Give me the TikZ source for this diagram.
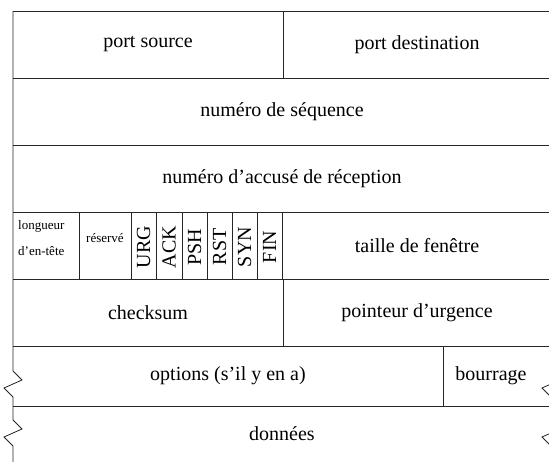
\documentclass[tikz,border=0pt]{standalone}
\usepackage{fontspec}
\setmainfont{Liberation Serif}
\begin{document}
\begin{tikzpicture}[x=1pt,y=-1pt,
  rule/.style={line width=0.8pt, draw=black!85},
  lbl/.style={font=\fontsize{20}{24}\selectfont, inner sep=0pt},
  small/.style={font=\fontsize{13}{15}\selectfont, inner sep=0pt},
  flag/.style={font=\fontsize{20}{24}\selectfont, rotate=90, inner sep=0pt}]
\useasboundingbox (0,0) rectangle (549,462);
\fill[white] (0,0) rectangle (549,462);
\clip (0,0) rectangle (549,462);
% horizontal rules
\foreach \yy in {11,78,145,212,279,346,406}
  \draw[rule] (13,\yy) -- (565,\yy);
% left border with break marks
\draw[rule] (13,11) -- (13,371) -- (22,380) -- (4,388) -- (13,397) -- (13,420)
  -- (22,429) -- (4,437) -- (13,446) -- (13,470);
% right border with break marks (mostly outside the frame)
\draw[rule] (551,11) -- (551,371) -- (560,380) -- (542,388) -- (551,397) -- (551,420)
  -- (560,429) -- (542,437) -- (551,446) -- (551,470);
% vertical dividers
\draw[rule] (283,11) -- (283,78);
\draw[rule] (283,279) -- (283,346);
\draw[rule] (443,346) -- (443,406);
\foreach \xx in {79,131,156,182,207,232,257,282}
  \draw[rule] (\xx,212) -- (\xx,279);
% texts
\node[lbl] (srcport) at (148,44.5) {port source};
\node[lbl] (dstport) at (417,44.5) {port destination};
\node[lbl] (seq) at (282,111.5) {numéro de séquence};
\node[lbl] (ack) at (282,178.5) {numéro d’accusé de réception};
\node[small, anchor=west] (hlen1) at (18,226) {longueur};
\node[small, anchor=west] (hlen2) at (18,251) {d’en-tête};
\node[small] (resv) at (105,238) {réservé};
\node[flag] (furg) at (143.5,247) {URG};
\node[flag] (fack) at (169,247) {ACK};
\node[flag] (fpsh) at (194.5,247) {PSH};
\node[flag] (frst) at (219.5,247) {RST};
\node[flag] (fsyn) at (244.5,247) {SYN};
\node[flag] (ffin) at (269.5,247) {FIN};
\node[lbl] (win) at (417,245.5) {taille de fenêtre};
\node[lbl] (chk) at (148,312.5) {checksum};
\node[lbl] (urgp) at (417,312.5) {pointeur d’urgence};
\node[lbl] (opts) at (228,376) {options (s’il y en a)};
\node[lbl] (pad) at (491,376) {bourrage};
\node[lbl] (data) at (282,434) {données};
\end{tikzpicture}
\end{document}
